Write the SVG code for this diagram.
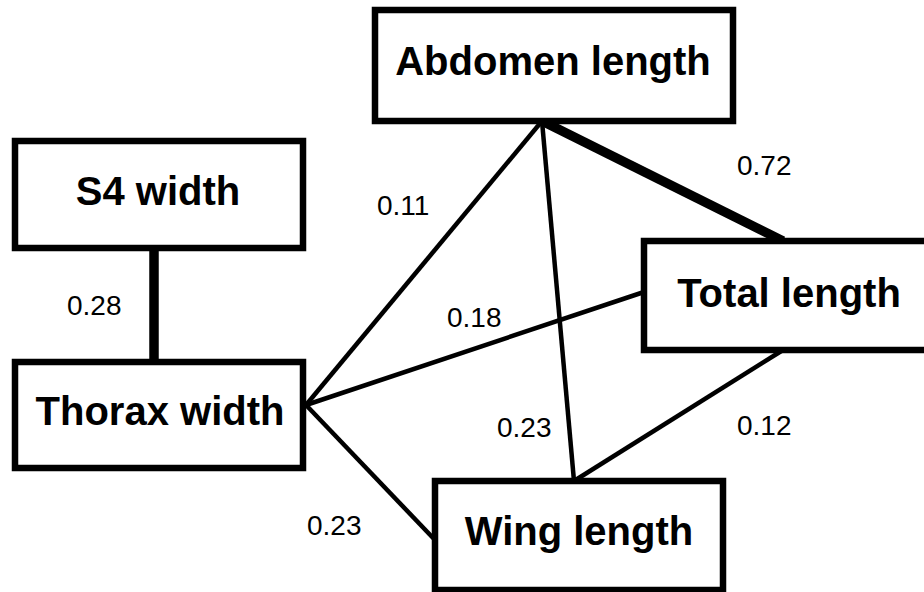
<svg xmlns="http://www.w3.org/2000/svg" width="924" height="592" viewBox="0 0 924 592">
  <style>
    .box { fill: #ffffff; stroke: #000000; stroke-width: 6.5; }
    .name { font-family: "Liberation Sans", Arial, sans-serif; font-weight: bold; font-size: 40px; text-anchor: middle; fill: #000000; }
    .edge { stroke: #000000; stroke-width: 4.5; fill: none; stroke-linecap: butt; }
    .heavy { stroke-width: 9.5; }
    .weight { font-family: "Liberation Sans", Arial, sans-serif; font-size: 28px; fill: #000000; }
  </style>
  <rect width="924" height="592" fill="#ffffff"/>

  <g id="connectors">
    <line class="edge heavy" x1="154" y1="248" x2="154" y2="362"/>
    <line class="edge heavy" x1="542" y1="121" x2="783" y2="241"/>
    <line class="edge" x1="542" y1="121" x2="306" y2="405"/>
    <line class="edge" x1="542" y1="121" x2="574" y2="481"/>
    <line class="edge" x1="306" y1="405" x2="644" y2="292"/>
    <line class="edge" x1="306" y1="405" x2="435" y2="540"/>
    <line class="edge" x1="783" y1="350" x2="574" y2="481"/>
    <text class="weight" x="67" y="315">0.28</text>
    <text class="weight" x="377" y="215">0.11</text>
    <text class="weight" x="447" y="327">0.18</text>
    <text class="weight" x="737" y="175">0.72</text>
    <text class="weight" x="737" y="435">0.12</text>
    <text class="weight" x="497" y="437">0.23</text>
    <text class="weight" x="307" y="535">0.23</text>
  </g>

  <g id="abdomen-length">
    <rect class="box" x="375" y="10" width="358" height="111"/>
    <text class="name" x="553" y="75">Abdomen length</text>
  </g>

  <g id="s4-width">
    <rect class="box" x="15" y="141" width="288" height="107"/>
    <text class="name" x="158" y="205">S4 width</text>
  </g>

  <g id="total-length">
    <rect class="box" x="644" y="241" width="290" height="109"/>
    <text class="name" x="789" y="307">Total length</text>
  </g>

  <g id="thorax-width">
    <rect class="box" x="15" y="362" width="288" height="106"/>
    <text class="name" x="160" y="425">Thorax width</text>
  </g>

  <g id="wing-length">
    <rect class="box" x="435" y="481" width="288" height="109"/>
    <text class="name" x="579" y="545">Wing length</text>
  </g>
</svg>
